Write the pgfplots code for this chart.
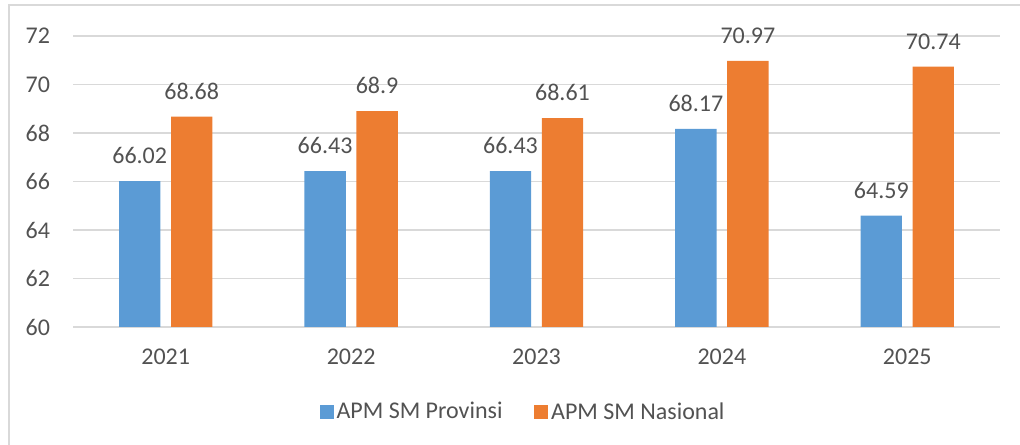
\documentclass[border=0pt]{standalone}
\usepackage{fontspec}
\setmainfont{Carlito}
\usepackage{pgfplots}
\pgfplotsset{compat=1.18}
\definecolor{cblue}{HTML}{5B9BD5}
\definecolor{corange}{HTML}{ED7D31}
\definecolor{cgrid}{HTML}{D9D9D9}
\definecolor{ctext}{HTML}{525252}
\newcommand{\cf}{\fontsize{18pt}{21pt}\selectfont}
\begin{document}
\begin{tikzpicture}
\useasboundingbox (0pt,0pt) rectangle (765pt,333.75pt);
\draw[cgrid, line width=1.5pt] (6.75pt,-10pt) -- (6.75pt,330pt) -- (780pt,330pt);
\begin{axis}[
  at={(54.75pt,88.5pt)}, anchor=south west,
  scale only axis, width=695.25pt, height=218.25pt,
  xmin=-0.5, xmax=4.5, ymin=60, ymax=72,
  ytick={60,62,...,72},
  xtick={0,1,2,3,4},
  xticklabels={2021,2022,2023,2024,2025},
  axis line style={draw=none},
  major tick length=0pt,
  ymajorgrids, grid style={cgrid, line width=1.2pt},
  ticklabel style={font=\cf, text=ctext},
  yticklabel style={inner sep=0pt, xshift=-17pt},
  xticklabel style={inner sep=0pt, yshift=-16.5pt},
  /pgf/number format/assume math mode=true,
  ybar, bar width=31pt,
  point meta=explicit symbolic,
  nodes near coords,
  every node near coord/.append style={font=\cf, text=ctext, anchor=south, inner sep=0pt, yshift=12.75pt},
  legend style={at={(0.486,-0.291)}, anchor=center, draw=none, fill=none,
    legend columns=2, font=\cf, text=ctext,
    /tikz/every even column/.append style={column sep=22pt},
    legend cell align=left},
  legend image code/.code={\fill[#1] (-3pt,-5.25pt) rectangle (7.5pt,5.25pt);},
]
\addplot[fill=cblue, draw=none, bar shift=-19.5pt] coordinates {
  (0,66.02) [66.02] (1,66.43) [66.43] (2,66.43) [66.43] (3,68.17) [68.17] (4,64.59) [64.59]};
\addplot[fill=corange, draw=none, bar shift=19.5pt] coordinates {
  (0,68.68) [68.68] (1,68.9) [68.9] (2,68.61) [68.61] (3,70.97) [70.97] (4,70.74) [70.74]};
\legend{APM SM Provinsi, APM SM Nasional}
\end{axis}
\end{tikzpicture}
\end{document}
